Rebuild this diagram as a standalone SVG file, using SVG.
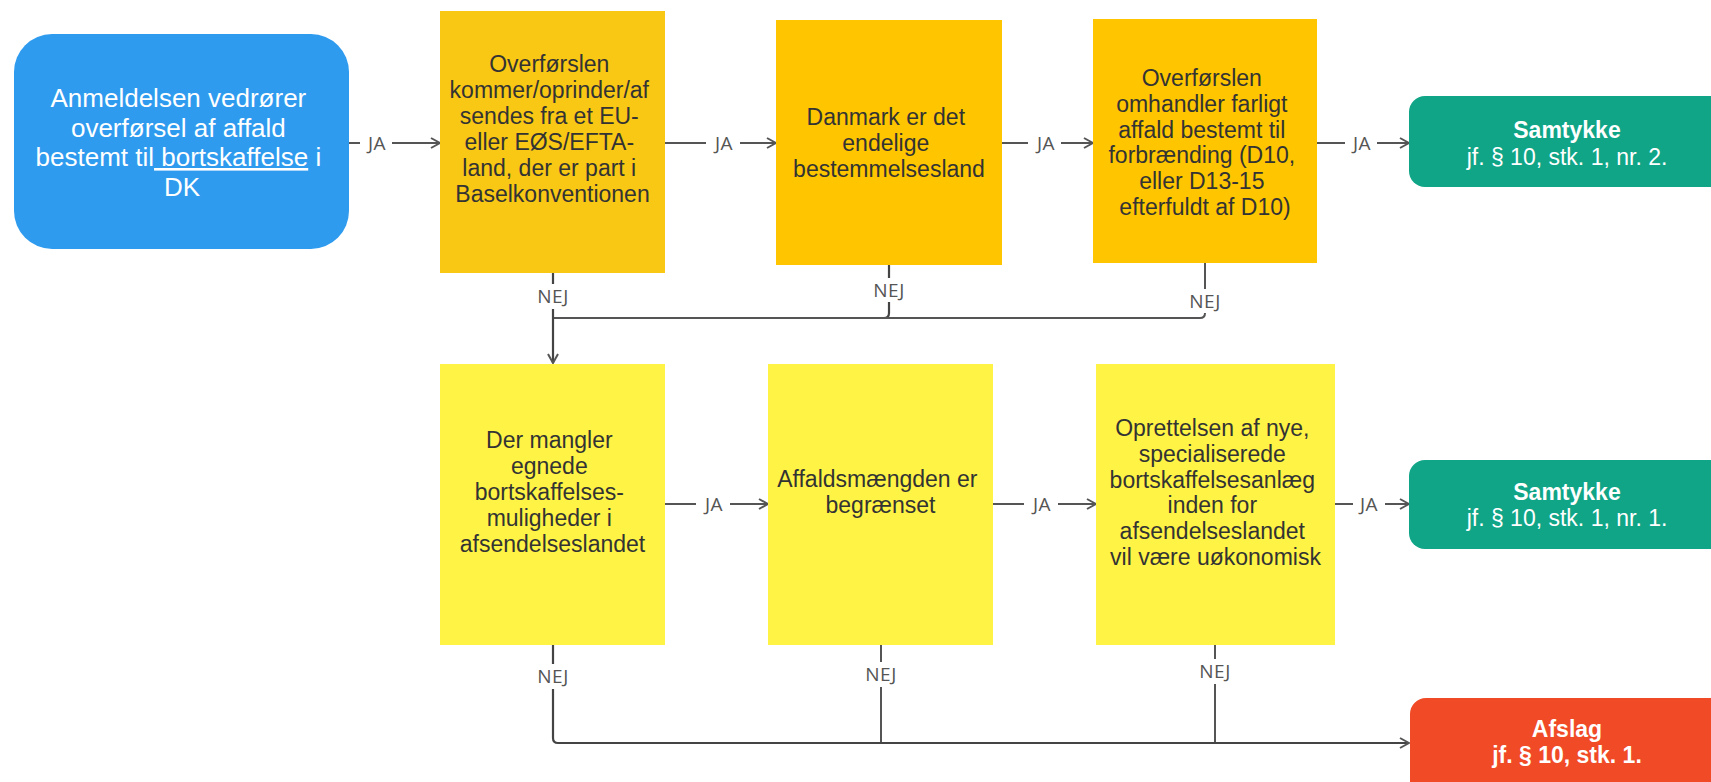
<svg xmlns="http://www.w3.org/2000/svg" width="1711" height="782" viewBox="0 0 1711 782">
<defs>
<style>
.t{font-family:"Liberation Sans",Arial,sans-serif;font-size:23px;fill:#333;text-anchor:middle}
.tw{font-family:"Liberation Sans",Arial,sans-serif;font-size:23px;fill:#fff;text-anchor:middle}
.b{font-weight:bold}
.lbl{font-family:"Open Sans","Noto Sans",sans-serif;font-size:19px;fill:#555;text-anchor:middle;letter-spacing:0.5px}
.c{fill:none;stroke:#555;stroke-width:2}
.cd{fill:none;stroke:#444;stroke-width:2.2}
</style>
<marker id="ah" viewBox="0 0 12 12" refX="11" refY="6" markerWidth="12" markerHeight="12" markerUnits="userSpaceOnUse" orient="auto">
<path d="M2 1 L11 6 L2 11" fill="none" stroke="#555" stroke-width="2"/>
</marker>
</defs>
<rect width="1711" height="782" fill="#fff"/>

<g id="connectors">
<path class="c" d="M349 143 H440" marker-end="url(#ah)"/>
<path class="c" d="M665 143 H776" marker-end="url(#ah)"/>
<path class="c" d="M1002 143 H1093" marker-end="url(#ah)"/>
<path class="c" d="M1317 143 H1409" marker-end="url(#ah)"/>
<path class="c" d="M665 504 H768" marker-end="url(#ah)"/>
<path class="c" d="M993 504 H1096" marker-end="url(#ah)"/>
<path class="c" d="M1335 504 H1409" marker-end="url(#ah)"/>
<path class="cd" d="M889 265 V313 Q889 318 884 318 H553"/>
<path class="c" d="M1205 263 V313 Q1205 318 1200 318 H553"/>
<path class="cd" d="M553 273 V363" marker-end="url(#ah)"/>
<path class="c" d="M881 645 V743"/>
<path class="c" d="M1215 645 V743"/>
<path class="cd" d="M553 645 V738 Q553 743 558 743 H1409" marker-end="url(#ah)"/>
<g>
<rect x="360" y="130" width="32" height="26" fill="#fff"/><text class="lbl" x="377" y="150">JA</text>
<rect x="706" y="130" width="34" height="26" fill="#fff"/><text class="lbl" x="724" y="150">JA</text>
<rect x="1028" y="130" width="33" height="26" fill="#fff"/><text class="lbl" x="1046" y="150">JA</text>
<rect x="1345" y="130" width="32" height="26" fill="#fff"/><text class="lbl" x="1362" y="150">JA</text>
<rect x="696" y="491" width="34" height="26" fill="#fff"/><text class="lbl" x="714" y="511">JA</text>
<rect x="1024" y="491" width="34" height="26" fill="#fff"/><text class="lbl" x="1042" y="511">JA</text>
<rect x="1353" y="491" width="32" height="26" fill="#fff"/><text class="lbl" x="1369" y="511">JA</text>
<rect x="533" y="284" width="40" height="25" fill="#fff"/><text class="lbl" x="553" y="303">NEJ</text>
<rect x="869" y="278" width="40" height="24" fill="#fff"/><text class="lbl" x="889" y="297">NEJ</text>
<rect x="1185" y="289" width="40" height="24" fill="#fff"/><text class="lbl" x="1205" y="308">NEJ</text>
<rect x="533" y="664" width="40" height="25" fill="#fff"/><text class="lbl" x="553" y="683">NEJ</text>
<rect x="861" y="662" width="40" height="25" fill="#fff"/><text class="lbl" x="881" y="681">NEJ</text>
<rect x="1195" y="659" width="40" height="25" fill="#fff"/><text class="lbl" x="1215" y="678">NEJ</text>
</g>
</g>

<g id="start">
<rect x="14" y="34" width="335" height="215" rx="38" fill="#2E9BEF"/>
<text class="tw" style="font-size:26px">
<tspan x="182" y="107">Anmeldelsen vedrører</tspan>
<tspan x="182" y="137">overførsel af affald</tspan>
<tspan x="182" y="166">bestemt til<tspan text-decoration="underline"> bortskaffelse</tspan> i</tspan>
<tspan x="182" y="196">DK</tspan>
</text>
</g>

<g id="q1">
<rect x="440" y="11" width="225" height="262" fill="#F9C814"/>
<text class="t">
<tspan x="552.5" y="72">Overførslen</tspan>
<tspan x="552.5" y="98">kommer/oprinder/af</tspan>
<tspan x="552.5" y="124">sendes fra et EU-</tspan>
<tspan x="552.5" y="150">eller EØS/EFTA-</tspan>
<tspan x="552.5" y="176">land, der er part i</tspan>
<tspan x="552.5" y="202">Baselkonventionen</tspan>
</text>
</g>

<g id="q2">
<rect x="776" y="20" width="226" height="245" fill="#FFC600"/>
<text class="t">
<tspan x="889" y="125">Danmark er det</tspan>
<tspan x="889" y="151">endelige</tspan>
<tspan x="889" y="177">bestemmelsesland</tspan>
</text>
</g>

<g id="q3">
<rect x="1093" y="19" width="224" height="244" fill="#FFC600"/>
<text class="t">
<tspan x="1205" y="86">Overførslen</tspan>
<tspan x="1205" y="112">omhandler farligt</tspan>
<tspan x="1205" y="138">affald bestemt til</tspan>
<tspan x="1205" y="163">forbrænding (D10,</tspan>
<tspan x="1205" y="189">eller D13-15</tspan>
<tspan x="1205" y="215">efterfuldt af D10)</tspan>
</text>
</g>

<g id="ok1">
<rect x="1409" y="96" width="320" height="91" rx="16" fill="#10A587"/>
<text class="tw"><tspan class="b" x="1567" y="138">Samtykke</tspan><tspan x="1567" y="165">jf. § 10, stk. 1, nr. 2.</tspan></text>
</g>

<g id="q4">
<rect x="440" y="364" width="225" height="281" fill="#FFF345"/>
<text class="t">
<tspan x="552.5" y="448">Der mangler</tspan>
<tspan x="552.5" y="474">egnede</tspan>
<tspan x="552.5" y="500">bortskaffelses-</tspan>
<tspan x="552.5" y="526">muligheder i</tspan>
<tspan x="552.5" y="552">afsendelseslandet</tspan>
</text>
</g>

<g id="q5">
<rect x="768" y="364" width="225" height="281" fill="#FFF345"/>
<text class="t">
<tspan x="880.5" y="487">Affaldsmængden er</tspan>
<tspan x="880.5" y="513">begrænset</tspan>
</text>
</g>

<g id="q6">
<rect x="1096" y="364" width="239" height="281" fill="#FFF345"/>
<text class="t">
<tspan x="1215.5" y="436">Oprettelsen af nye,</tspan>
<tspan x="1215.5" y="462">specialiserede</tspan>
<tspan x="1215.5" y="488">bortskaffelsesanlæg</tspan>
<tspan x="1215.5" y="513">inden for</tspan>
<tspan x="1215.5" y="539">afsendelseslandet</tspan>
<tspan x="1215.5" y="565">vil være uøkonomisk</tspan>
</text>
</g>

<g id="ok2">
<rect x="1409" y="460" width="320" height="89" rx="16" fill="#10A587"/>
<text class="tw"><tspan class="b" x="1567" y="500">Samtykke</tspan><tspan x="1567" y="526">jf. § 10, stk. 1, nr. 1.</tspan></text>
</g>

<g id="reject">
<rect x="1410" y="698" width="320" height="110" rx="16" fill="#F14A26"/>
<text class="tw b"><tspan x="1567" y="737">Afslag</tspan><tspan x="1567" y="763">jf. § 10, stk. 1.</tspan></text>
</g>
</svg>
